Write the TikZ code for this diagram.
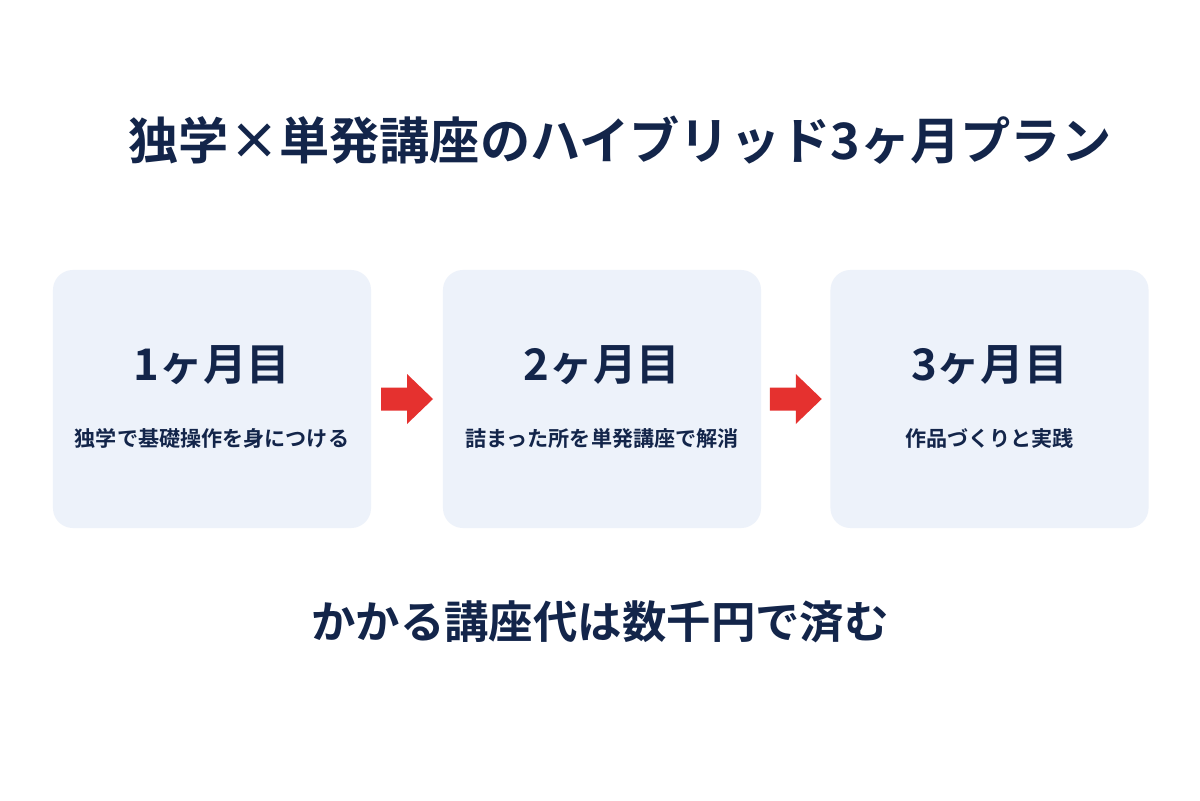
\documentclass[tikz,border=0pt]{standalone}
\usepackage{fontspec}
\setmainfont{Noto Sans CJK JP Bold}
\usetikzlibrary{calc}
\definecolor{navy}{HTML}{13254A}
\definecolor{boxfill}{HTML}{EDF2FA}
\definecolor{arrowred}{HTML}{E5312F}
\tikzset{
  stagebox/.style={fill=boxfill, rounded corners=0.5cm, minimum width=7.95cm, minimum height=6.45cm, inner sep=0pt},
  heading/.style={text=navy, font=\fontsize{31}{36}\selectfont},
  sub/.style={text=navy, font=\fontsize{15}{18}\selectfont},
  bigtext/.style={text=navy, font=\fontsize{35.7}{40}\selectfont},
  blockarrow/.style={fill=arrowred}
}
\begin{document}
\begin{tikzpicture}[x=0.025cm,y=-0.025cm]
\useasboundingbox[fill=white] (0,0) rectangle (1200,800);
\node[bigtext] (title) at (620,140) {独学×単発講座のハイブリッド3ヶ月プラン};
\node[stagebox] (b1) at (212,399) {};
\node[stagebox] (b2) at (602,399) {};
\node[stagebox] (b3) at (989.5,399) {};
\node[heading] (h1) at (212,365) {1ヶ月目};
\node[heading] (h2) at (602,365) {2ヶ月目};
\node[heading] (h3) at (989.5,365) {3ヶ月目};
\node[sub] (s1) at (212,438) {独学で基礎操作を身につける};
\node[sub] (s2) at (602,438) {詰まった所を単発講座で解消};
\node[sub] (s3) at (989.5,438) {作品づくりと実践};
\node[text=navy, font=\fontsize{31.6}{36}\selectfont] (bottom) at (600,622) {かかる講座代は数千円で済む};
\foreach \a/\b in {b1/b2, b2/b3}{
  \path ($(\a.east)!0.5!(\b.west)$) coordinate (m);
  \fill[blockarrow] ($(m)+(-26,-11.5)$) -- ($(m)+(0,-11.5)$) -- ($(m)+(0,-25)$) -- ($(m)+(26,0)$) -- ($(m)+(0,25)$) -- ($(m)+(0,11.5)$) -- ($(m)+(-26,11.5)$) -- cycle;
}
\end{tikzpicture}
\end{document}
